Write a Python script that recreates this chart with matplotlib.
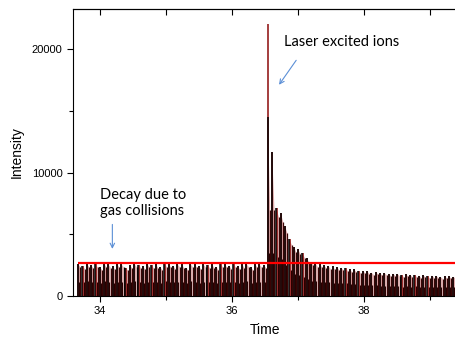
import matplotlib
matplotlib.use("Agg")
import matplotlib.pyplot as plt
from matplotlib.patches import Polygon

# Arrival time of each ion pulse (s) and its peak intensity
pulse_time = [
    33.667, 33.732, 33.798, 33.863, 33.928, 33.994, 34.059, 34.124, 34.189, 34.255,
    34.320, 34.385, 34.451, 34.516, 34.581, 34.647, 34.712, 34.777, 34.842, 34.908,
    34.973, 35.038, 35.104, 35.169, 35.234, 35.300, 35.365, 35.430, 35.495, 35.561,
    35.626, 35.691, 35.757, 35.822, 35.887, 35.953, 36.018, 36.083, 36.148, 36.214,
    36.279, 36.344, 36.410, 36.475, 36.540, 36.605, 36.671, 36.736, 36.801, 36.867,
    36.932, 36.997, 37.063, 37.128, 37.193, 37.258, 37.324, 37.389, 37.454, 37.520,
    37.585, 37.650, 37.716, 37.781, 37.846, 37.911, 37.977, 38.042, 38.107, 38.173,
    38.238, 38.303, 38.368, 38.434, 38.499, 38.564, 38.630, 38.695, 38.760, 38.826,
    38.891, 38.956, 39.022, 39.087, 39.152, 39.217, 39.283, 39.348,
]
intensity = [
    2600, 2450, 2620, 2500, 2580, 2350, 2620, 2560, 2400, 2600,
    2600, 2300, 2500, 2620, 2540, 2400, 2600, 2500, 2560, 2350,
    2620, 2580, 2450, 2600, 2560, 2300, 2620, 2580, 2400, 2600,
    2520, 2560, 2350, 2600, 2580, 2450, 2600, 2400, 2560, 2620,
    2350, 2600, 2580, 2550, 14500, 11700, 7100, 6700, 5650, 4600,
    4000, 3800, 3450, 3050, 2750, 2650, 2600, 2520, 2450, 2400,
    2350, 2300, 2250, 2150, 2150, 2050, 2050, 2000, 1900, 1950,
    1850, 1880, 1800, 1820, 1800, 1700, 1760, 1700, 1720, 1650,
    1690, 1600, 1660, 1640, 1550, 1600, 1580, 1560,
]
# Second trace: identical except for the laser-excited pulse
intensity_ref = list(intensity)
intensity_ref[44] = 22000

reference_level = 2700
reference_start = 33.667

fig = plt.figure(figsize=(4.55, 3.38), dpi=100)
ax = fig.add_axes([73 / 455, 1 - 296 / 338, (456 - 73) / 455, (296 - 9) / 338])

# each pulse: pink body between a black leading edge and a dark-red trailing edge,
# with a weaker echo inside the body
w = 0.036
tail_cap = 7000
for t, h, h2 in zip(pulse_time, intensity, intensity_ref):
    tail = min(h * 0.9, tail_cap)
    ax.add_patch(Polygon([(t, 0), (t, h), (t + w, tail), (t + w, 0)],
                         closed=True, facecolor="#deaaaa", edgecolor="none", zorder=1))
    ax.vlines(t + 0.003, 0, h2, color="#8b0a0a", lw=1.1, zorder=2)
    ax.vlines(t, 0, h, color="black", lw=1.1, zorder=3)
    ax.vlines(t + w, 0, tail, color="#3a0505", lw=0.9, zorder=2)
    ax.vlines(t + w * 0.5, 0, min(h * 0.45, tail_cap * 0.5), color="#2a0000",
              lw=0.8, zorder=2)

ax.hlines(reference_level, reference_start, 39.5, color="#ff0000", lw=1.6, zorder=4)

ax.set_xlim(33.59, 39.39)
ax.set_ylim(0, 23240)
ax.set_xticks([34, 36, 38])
ax.set_xticks([35, 37, 39], minor=True)
ax.set_yticks([0, 10000, 20000])
ax.set_yticks([5000, 15000], minor=True)
ax.tick_params(axis="both", which="both", direction="out", labelsize=8, width=0.8)
ax.tick_params(which="major", length=4)
ax.tick_params(which="minor", length=3)
for lab in ax.get_xticklabels() + ax.get_yticklabels():
    lab.set_family("Liberation Sans")

# inward ticks along the top edge
top = ax.secondary_xaxis("top")
top.set_xticks([34, 35, 36, 37, 38, 39])
top.tick_params(direction="in", length=4, labeltop=False, width=0.8)

ax.set_xlabel("Time", fontsize=10, family="Liberation Sans", labelpad=5)
ax.set_ylabel("Intensity", fontsize=10, family="Liberation Sans", labelpad=6)

arrow_kw = dict(arrowstyle="->", color="#5b8fd6", lw=0.8, mutation_scale=8)
ax.text(36.78, 20250, "Laser excited ions", fontsize=10.5, family="Lato",
        ha="left", va="baseline")
ax.annotate("", xy=(36.686, 16920), xytext=(36.994, 19270), arrowprops=arrow_kw)
ax.text(34.0, 6560, "Decay due to\ngas collisions", fontsize=10.5, family="Lato",
        ha="left", va="baseline", linespacing=1.15)
ax.annotate("", xy=(34.186, 3590), xytext=(34.186, 6020), arrowprops=arrow_kw)

for s in ax.spines.values():
    s.set_linewidth(0.8)

fig.savefig("out.png", dpi=100)
